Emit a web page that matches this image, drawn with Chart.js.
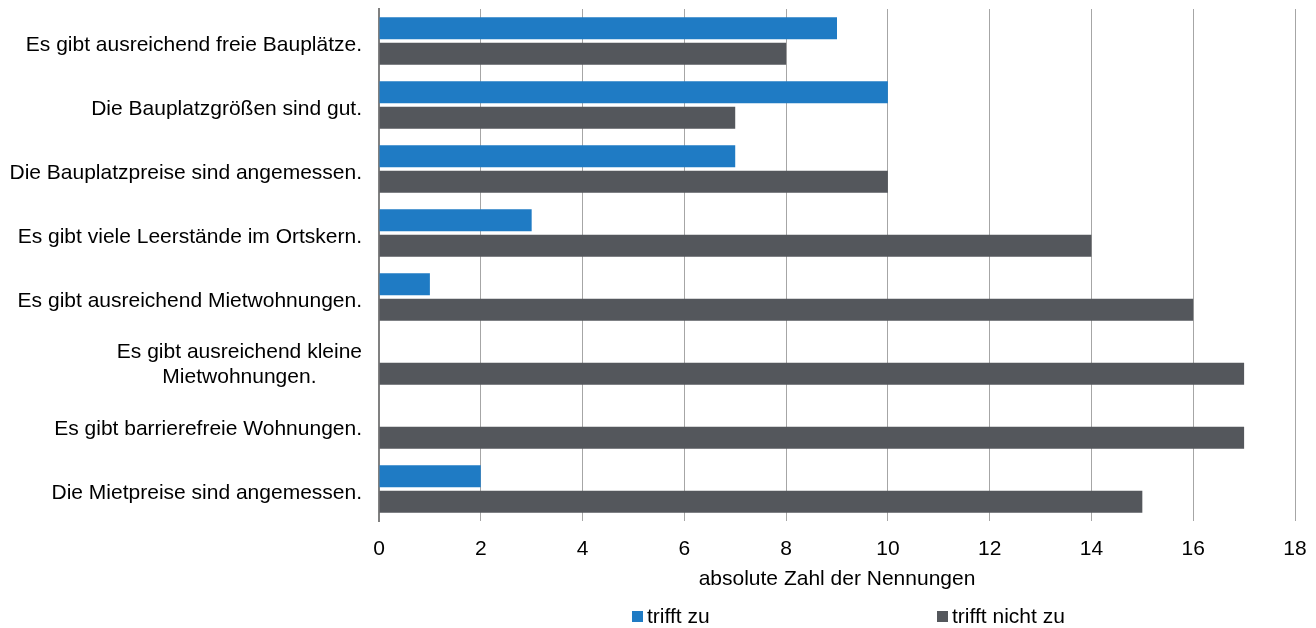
<!DOCTYPE html>
<html>
<head>
<meta charset="utf-8">
<script src="https://cdn.jsdelivr.net/npm/chart.js@4"></script>
<style>
html,body{margin:0;padding:0;background:#fff;}
#wrap{width:1316px;height:628px;position:relative;}
</style>
</head>
<body>
<div id="wrap"><canvas id="c" width="1316" height="628"></canvas></div>
<script>
const categories = [
  ["Es gibt ausreichend freie Bauplätze."],
  ["Die Bauplatzgrößen sind gut."],
  ["Die Bauplatzpreise sind angemessen."],
  ["Es gibt viele Leerstände im Ortskern."],
  ["Es gibt ausreichend Mietwohnungen."],
  ["Es gibt ausreichend kleine", "Mietwohnungen."],
  ["Es gibt barrierefreie Wohnungen."],
  ["Die Mietpreise sind angemessen."]
];
const seriesNames = ["trifft zu", "trifft nicht zu"];
const triffZu = [9, 10, 7, 3, 1, 0, 0, 2];
const triffNichtZu = [8, 7, 10, 14, 16, 17, 17, 15];
const xTicks = [0, 2, 4, 6, 8, 10, 12, 14, 16, 18];
const axisTitle = "absolute Zahl der Nennungen";

const FONT = "'Liberation Sans', Arial, sans-serif";
const FS = 21;
const BLUE = "#1F7BC4";
const GRAY = "#54575C";

const yLabelPlugin = {
  id: 'yLabels',
  afterDraw(chart) {
    const ctx = chart.ctx;
    const y = chart.scales.y;
    const right = chart.chartArea.left - 17;
    ctx.save();
    ctx.font = FS + "px " + FONT;
    ctx.fillStyle = "#000";
    ctx.textBaseline = "middle";
    const lh = 25;
    categories.forEach((lines, i) => {
      const cy = y.getPixelForValue(i) + 4;
      const widths = lines.map(l => ctx.measureText(l).width);
      const maxW = Math.max(...widths);
      const blockCenter = right - maxW / 2;
      ctx.textAlign = "center";
      lines.forEach((l, j) => {
        const ly = cy + (j - (lines.length - 1) / 2) * lh;
        ctx.fillText(l, blockCenter, ly);
      });
    });
    ctx.restore();
  }
};

const legendPlugin = {
  id: 'customLegend',
  afterDraw(chart) {
    const ctx = chart.ctx;
    const xs = [632, 937];
    const cy = 616;
    ctx.save();
    ctx.font = FS + "px " + FONT;
    ctx.textBaseline = "middle";
    ctx.textAlign = "left";
    chart.data.datasets.forEach((ds, i) => {
      ctx.fillStyle = ds.backgroundColor;
      ctx.fillRect(xs[i], cy - 5, 11, 11);
      ctx.fillStyle = "#000";
      ctx.fillText(ds.label, xs[i] + 15, cy + 1);
    });
    ctx.restore();
  }
};

new Chart(document.getElementById('c'), {
  type: 'bar',
  data: {
    labels: categories,
    datasets: [
      { label: seriesNames[0], data: triffZu, backgroundColor: BLUE, categoryPercentage: 0.8, barPercentage: 0.86 },
      { label: seriesNames[1], data: triffNichtZu, backgroundColor: GRAY, categoryPercentage: 0.8, barPercentage: 0.86 }
    ]
  },
  options: {
    indexAxis: 'y',
    responsive: false,
    animation: false,
    devicePixelRatio: 1,
    layout: { padding: { top: 9, right: 21, bottom: 36, left: 0 } },
    plugins: { legend: { display: false }, tooltip: { enabled: false } },
    scales: {
      x: {
        min: 0, max: 18,
        afterBuildTicks(scale) { scale.ticks = xTicks.map(v => ({ value: v })); },
        afterFit(scale) { scale.height = 71; scale.paddingRight = 0; scale.paddingLeft = 0; },
        grid: { color: "#A6A6A6", lineWidth: 1, drawTicks: false },
        border: { display: false },
        ticks: { padding: 16, color: "#000", font: { family: FONT, size: FS } },
        title: { display: true, text: axisTitle, color: "#000", padding: 0, font: { family: FONT, size: FS } }
      },
      y: {
        afterFit(scale) { scale.width = 379; },
        grid: { display: false },
        border: { display: true, color: "#808080", width: 2 },
        ticks: { display: false }
      }
    }
  },
  plugins: [yLabelPlugin, legendPlugin]
});
</script>
</body>
</html>
